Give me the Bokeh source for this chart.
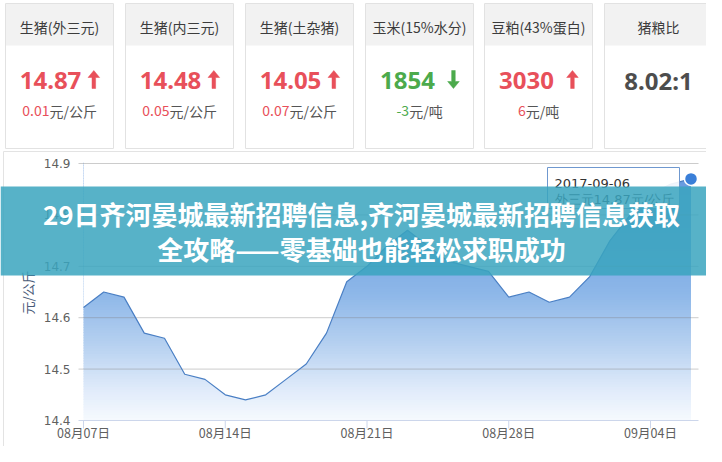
import numpy as np
from bokeh.plotting import figure
from bokeh.models import Range1d
from bokeh.core.properties import value
from bokeh.embed import file_html
from bokeh.resources import INLINE

# ---------------- data ----------------
dates = ["2017-08-07", "2017-08-08", "2017-08-09", "2017-08-10", "2017-08-11", "2017-08-12",
         "2017-08-13", "2017-08-14", "2017-08-15", "2017-08-16", "2017-08-17", "2017-08-18",
         "2017-08-19", "2017-08-20", "2017-08-21", "2017-08-22", "2017-08-23", "2017-08-24",
         "2017-08-25", "2017-08-26", "2017-08-27", "2017-08-28", "2017-08-29", "2017-08-30",
         "2017-08-31", "2017-09-01", "2017-09-02", "2017-09-03", "2017-09-04", "2017-09-05",
         "2017-09-06"]
prices = [14.62, 14.65, 14.64, 14.57, 14.56, 14.49, 14.48, 14.45, 14.44, 14.45, 14.48, 14.51,
          14.57, 14.67, 14.70, 14.74, 14.77, 14.74, 14.71, 14.70, 14.69, 14.64, 14.65, 14.63,
          14.64, 14.68, 14.75, 14.80, 14.84, 14.86, 14.87]
y_ticks = [14.4, 14.5, 14.6, 14.7, 14.8, 14.9]
y_tick_labels = ["14.4", "14.5", "14.6", "14.7", "14.8", "14.9"]
x_tick_idx = [0, 7, 14, 21, 28]
x_tick_labels = ["08月07日", "08月14日", "08月21日", "08月28日", "09月04日"]
y_title = "元/公斤"
series_name = "外三元"

card_titles = ["生猪(外三元)", "生猪(内三元)", "生猪(土杂猪)", "玉米(15%水分)", "豆粕(43%蛋白)", "猪粮比"]
card_values = ["14.87", "14.48", "14.05", "1854", "3030", "8.02:1"]
card_trend = ["up", "up", "up", "down", "up", ""]
card_change = ["0.01", "0.05", "0.07", "-3", "6", ""]
card_units = ["元/公斤", "元/公斤", "元/公斤", "元/吨", "元/吨", ""]

banner_lines = ["29日齐河晏城最新招聘信息,齐河晏城最新招聘信息获取",
                "全攻略——零基础也能轻松求职成功"]

# ---------------- layout / style ----------------
W, H = 706, 446
OX, OY = 0, 0
X0_PX, DAY_PX = 83.0, 20.25          # pixel of first day, pixels per day
Y0_PX, VAL_PX, VAL0 = 420.0, 514.0, 14.4

RED = "#e8505a"
GREEN = "#4caa4c"
DARK = "#4d4d4d"
UNIT = "#555555"

p = figure(width=W, height=H,
           x_range=Range1d((OX - X0_PX) / DAY_PX, (OX + W - X0_PX) / DAY_PX),
           y_range=Range1d(VAL0 - (OY + H - Y0_PX) / VAL_PX, VAL0 + (Y0_PX - OY) / VAL_PX),
           output_backend="svg", toolbar_location=None, min_border=0,
           x_axis_location=None, y_axis_location=None)
p.grid.visible = False
p.outline_line_color = None
p.background_fill_color = "white"
p.border_fill_color = "white"
p.extra_x_ranges = {"px": Range1d(OX, OX + W)}
p.extra_y_ranges = {"py": Range1d(OY + H, OY)}

PX = dict(x_range_name="px", y_range_name="py")


def tw(s, size, bold=False):
    w = 0.0
    for ch in s:
        if ord(ch) > 0x2E80:
            w += size
        elif ch in ".:":
            w += 0.28 * size
        elif ch == "-":
            w += 0.34 * size
        elif ch == "/":
            w += 0.37 * size
        else:
            w += (0.572 if bold else 0.55) * size
    return w


def txt(x, y, s, size, color, font="Noto Sans CJK SC", align="center", bold=False,
        angle=0.0, ranges=PX):
    p.text(x=[x], y=[y], text=[s], text_font=value(font), text_font_size=f"{size}px",
           text_color=color, text_align=align, text_baseline="middle",
           text_font_style="bold" if bold else "normal", angle=angle, **ranges)


# ---------------- chart panel ----------------
p.quad(left=[3], right=[718], top=[151], bottom=[470], fill_color="white",
       line_color="#e3e3e3", **PX)

days = np.arange(len(prices))

# gradient fill (horizontal bands), then mask above the line
stop_v = [14.40, 14.46, 14.55, 14.65, 14.80, 14.90]
stop_c = np.array([[246, 250, 254], [224, 235, 250], [181, 208, 240],
                   [140, 182, 232], [112, 161, 226], [100, 152, 222]], dtype=float)
levels = np.linspace(y_ticks[0], y_ticks[-1], 101)
mids = (levels[:-1] + levels[1:]) / 2
cols = ["#%02x%02x%02x" % tuple(int(round(np.interp(m, stop_v, stop_c[:, k]))) for k in range(3))
        for m in mids]
p.quad(left=days[0], right=days[-1], bottom=levels[:-1], top=levels[1:] + 0.002,
       fill_color=cols, line_color=None)
p.varea(x=days, y1=prices, y2=y_ticks[-1] + 0.003, fill_color="white")

# gridlines + axis line
gx0 = (78 - X0_PX) / DAY_PX
gx1 = (698 - X0_PX) / DAY_PX
p.segment(x0=gx0, x1=gx1, y0=y_ticks[1:], y1=y_ticks[1:], line_color="#808080",
          line_alpha=0.4, line_width=1)
p.segment(x0=[gx0], x1=[gx1], y0=[y_ticks[0]], y1=[y_ticks[0]], line_color="#ccd6eb",
          line_width=1)
p.segment(x0=x_tick_idx, x1=x_tick_idx, y0=[420] * len(x_tick_idx), y1=[428] * len(x_tick_idx),
          line_color="#ccd6eb", line_width=1, y_range_name="py")

# series
p.line(days, prices, line_color="#4a7fc4", line_width=1.2)
p.scatter([days[-1]], [prices[-1]], size=13, fill_color="#3a7fd8", line_color="white",
          line_width=1.5)

# tick labels
p.text(x=[70] * len(y_ticks), y=y_ticks, text=y_tick_labels, text_font=value("DejaVu Sans"),
       text_font_size="12px", text_color="#606060", text_align="right",
       text_baseline="middle", x_range_name="px")
p.text(x=x_tick_idx, y=[432] * len(x_tick_idx), text=x_tick_labels,
       text_font=value("Noto Sans CJK SC"), text_font_size="12.5px", text_color="#606060",
       text_align="center", text_baseline="middle", y_range_name="py")
txt(27, 292, y_title, 13, "#4a5a78", angle=np.pi / 2)

# tooltip
p.quad(left=[547], right=[679], top=[167], bottom=[208], fill_color="white", fill_alpha=0.9,
       line_color="#6f98cf", line_width=1, **PX)
txt(554, 183, dates[-1], 13, "#333333", font="DejaVu Sans", align="left")
txt(554, 199, f"{series_name}{prices[-1]:.2f}元/公斤", 13, "#333333", font="DejaVu Sans",
    align="left")

# ---------------- cards ----------------
card_left = [5, 125, 245, 365, 484, 604]
CW = 108
arrow_gap = [7, 7, 7, 13, 13, 0]
for i in range(len(card_titles)):
    l = card_left[i]
    r = l + CW
    c = (l + r) / 2
    p.quad(left=[l], right=[r], top=[3], bottom=[148], fill_color="white",
           line_color="#e2e2e2", **PX)
    p.quad(left=[l + 0.5], right=[r - 0.5], top=[3.5], bottom=[45], fill_color="#f2f2f2",
           line_color=None, **PX)
    txt(c, 26, card_titles[i], 14, "#3c3c3c")

    trend = card_trend[i]
    col = RED if trend == "up" else (GREEN if trend == "down" else DARK)
    vw = tw(card_values[i], 24, bold=True)
    if trend:
        gw = vw + arrow_gap[i] + 11
        left = c - gw / 2
        txt(left, 80, card_values[i], 24, col, font="Noto Sans", align="left", bold=True)
        ax = left + vw + arrow_gap[i] + 5.5
        if trend == "up":
            ys = [88, 77, 77, 70, 77, 77, 88]
        else:
            ys = [70, 81, 81, 88, 81, 81, 70]
        xs = [ax - 1.8, ax - 1.8, ax - 5.8, ax, ax + 5.8, ax + 1.8, ax + 1.8]
        p.patch(xs, ys, fill_color=col, line_color=col, line_width=0.5, **PX)
    else:
        txt(c, 80, card_values[i], 24, col, font="Noto Sans", bold=True)

    if card_change[i]:
        nw = tw(card_change[i], 14)
        uw = tw(card_units[i], 14)
        split = c - (nw + uw) / 2 + nw
        txt(split, 110, card_change[i], 14, col, align="right")
        txt(split, 110, card_units[i], 14, UNIT, align="left")

# ---------------- banner ----------------
p.quad(left=[OX], right=[OX + W], top=[186], bottom=[275], fill_color="#3aa5be",
       fill_alpha=0.85, line_color=None, **PX)
txt(361, 213, banner_lines[0], 26, "white", bold=True)
txt(361, 248, banner_lines[1], 26, "white", bold=True)

open("out.html", "w").write(file_html(p, INLINE))
